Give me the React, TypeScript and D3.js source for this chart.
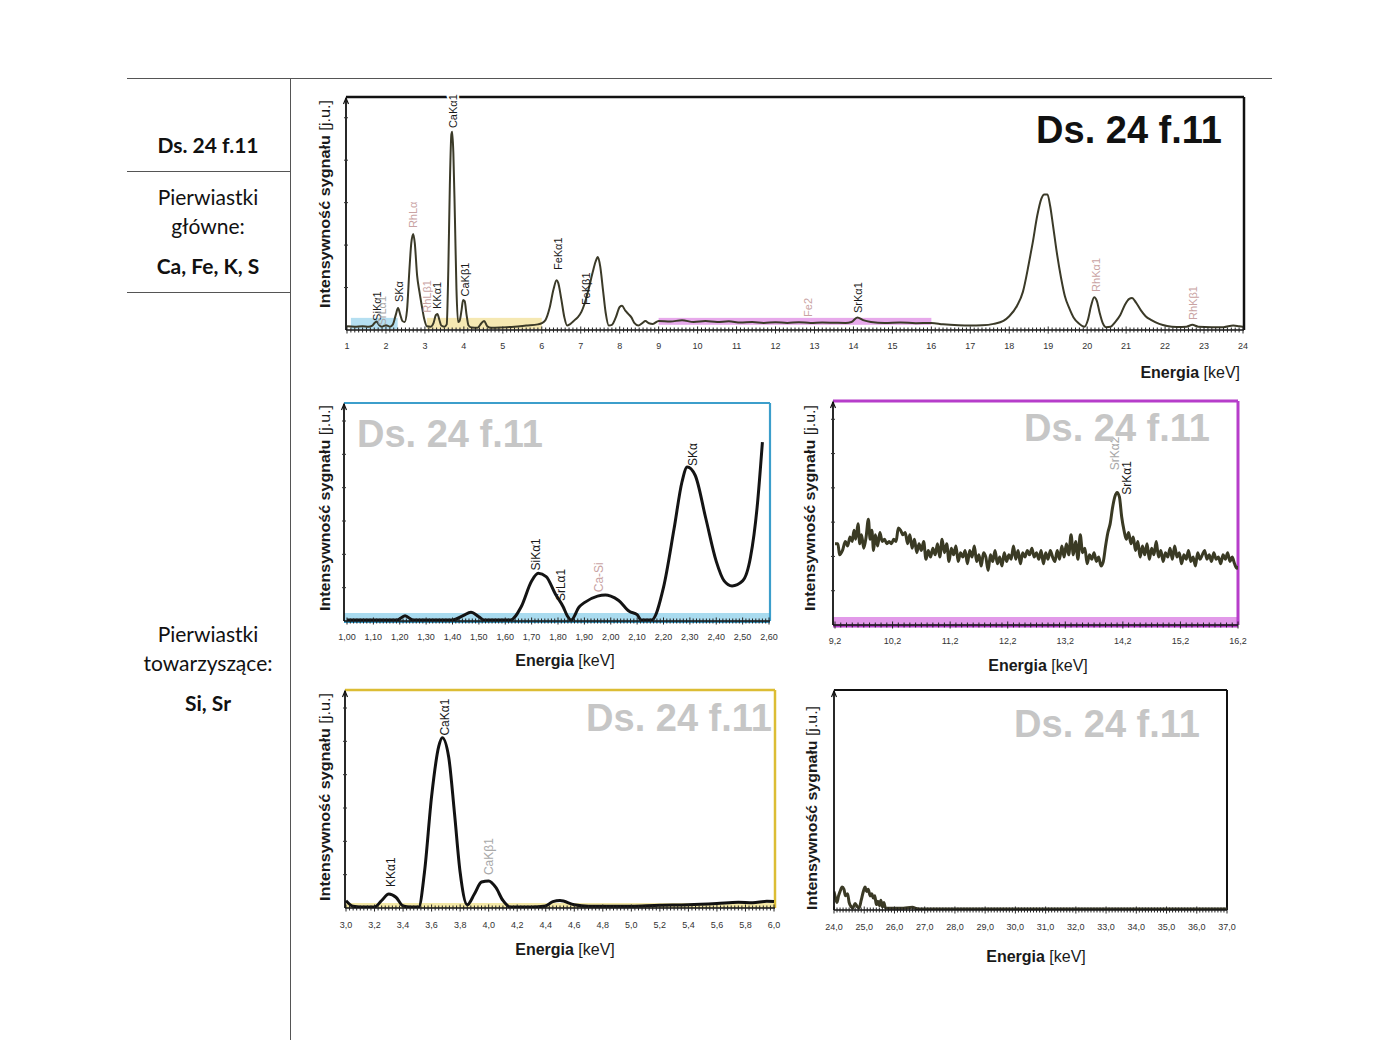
import React from "react";
import * as d3 from "d3";

// ---------- DATA ----------
const mainSpectrum: [number, number][] = [
  [1.0, 1.2], [1.2, 1.0], [1.4, 1.2], [1.55, 1.0], [1.65, 1.5], [1.72, 2.8], [1.76, 3.2], [1.82, 1.8], [1.9, 1.0], [2.0, 1.6],
  [2.1, 1.0], [2.18, 2.0], [2.25, 6.0], [2.31, 9.0], [2.37, 6.0], [2.42, 3.5], [2.48, 3.0], [2.54, 8], [2.6, 25], [2.65, 37],
  [2.7, 41], [2.74, 37], [2.8, 23], [2.86, 16], [2.92, 10], [2.98, 4.5], [3.05, 1.2], [3.15, 1.0], [3.22, 2.5], [3.28, 6],
  [3.32, 6.5], [3.37, 4], [3.42, 1.5], [3.5, 1.0], [3.56, 2], [3.6, 25], [3.64, 62], [3.68, 84], [3.7, 85], [3.73, 76],
  [3.77, 48], [3.81, 17], [3.85, 3], [3.89, 3.5], [3.94, 8], [3.98, 12.5], [4.02, 12], [4.07, 6], [4.12, 1.5], [4.2, 0.6],
  [4.35, 0.5], [4.45, 2.5], [4.52, 3.5], [4.6, 1.2], [4.7, 0.5], [5.0, 0.7], [5.3, 1.0], [5.6, 1.5], [5.9, 2.0], [6.0, 2.5],
  [6.1, 4], [6.2, 9], [6.3, 17], [6.38, 21], [6.42, 20], [6.5, 13], [6.58, 5], [6.65, 1.5], [6.72, 2], [6.82, 3.5],
  [6.92, 5], [7.02, 7.5], [7.1, 11], [7.2, 17], [7.3, 24], [7.38, 29], [7.44, 31], [7.5, 27], [7.57, 17], [7.64, 7],
  [7.72, 1.5], [7.8, 1.8], [7.9, 5], [8.0, 9.5], [8.06, 10], [8.14, 8], [8.22, 6.5], [8.3, 5], [8.38, 2.5], [8.48, 1.5],
  [8.58, 2.5], [8.66, 3.4], [8.75, 2.5], [8.85, 2.2], [9.0, 3.5], [9.3, 3.2], [9.6, 3.8], [9.9, 3.0], [10.2, 3.4], [10.5, 3.0],
  [10.8, 3.3], [11.1, 2.8], [11.4, 3.0], [11.7, 2.6], [12.0, 2.9], [12.3, 2.6], [12.6, 2.9], [12.9, 2.6], [13.2, 2.8], [13.5, 2.7],
  [13.8, 2.6], [13.95, 3.0], [14.1, 5.0], [14.25, 3.8], [14.45, 3.0], [14.8, 2.6], [15.2, 2.8], [15.6, 2.5], [16.0, 2.6], [16.3, 2.0],
  [16.7, 1.6], [17.0, 1.5], [17.3, 1.6], [17.6, 2.2], [17.85, 3.5], [18.0, 5.5], [18.2, 10], [18.35, 16], [18.5, 28], [18.6, 37],
  [18.72, 49], [18.82, 56], [18.9, 58], [18.98, 58], [19.05, 53], [19.12, 45], [19.22, 33], [19.33, 22], [19.43, 14], [19.54, 9],
  [19.65, 5], [19.78, 2.5], [19.93, 1.0], [20.02, 4], [20.1, 10], [20.18, 13.7], [20.25, 12], [20.32, 7], [20.4, 2.5], [20.48, 0.8],
  [20.6, 1.0], [20.72, 3], [20.85, 6], [20.97, 10.5], [21.08, 13], [21.15, 13.4], [21.25, 11.5], [21.38, 8], [21.5, 5.5], [21.65, 3.8],
  [21.85, 2.2], [22.05, 1.3], [22.3, 0.9], [22.55, 1.0], [22.7, 1.8], [22.85, 1.0], [23.2, 0.8], [23.5, 0.8], [23.75, 1.5], [23.9, 1.2],
  [24.0, 1.0],
];

const siSpectrum: [number, number][] = [
  [1.0, 0], [1.1, 0], [1.19, 0], [1.22, 2], [1.25, 0], [1.4, 0], [1.44, 2], [1.47, 3.6], [1.5, 1.5], [1.52, 0],
  [1.62, 0], [1.66, 6], [1.7, 18], [1.725, 21.5], [1.755, 20], [1.79, 12], [1.82, 6], [1.835, 2], [1.85, 0], [1.88, 6],
  [1.9, 8], [1.95, 11], [1.98, 11.5], [2.0, 11], [2.03, 9], [2.07, 4], [2.1, 2.5], [2.115, 0], [2.155, 0], [2.2, 15],
  [2.24, 42], [2.27, 63.6], [2.29, 70.5], [2.32, 66.7], [2.36, 47], [2.4, 27], [2.43, 18], [2.46, 15.7], [2.5, 18], [2.53, 29],
  [2.555, 52], [2.575, 82],
];

const srSpectrum: [number, number][] = [
  [9.2, 36], [9.25, 36], [9.28, 31], [9.33, 33], [9.38, 37], [9.42, 35], [9.46, 39], [9.5, 37], [9.53, 42], [9.56, 38],
  [9.6, 45], [9.63, 36], [9.66, 40], [9.7, 34], [9.74, 39], [9.78, 47], [9.81, 38], [9.84, 42], [9.87, 33], [9.9, 40],
  [9.94, 35], [9.98, 41], [10.02, 37], [10.06, 38], [10.1, 36], [10.14, 37], [10.18, 36], [10.22, 38], [10.26, 37], [10.3, 43],
  [10.34, 42], [10.38, 40], [10.42, 41], [10.46, 36], [10.5, 40], [10.54, 34], [10.58, 38], [10.62, 32], [10.66, 36], [10.7, 33],
  [10.74, 37], [10.78, 29], [10.82, 33], [10.86, 30], [10.9, 34], [10.94, 31], [10.98, 36], [11.02, 30], [11.06, 38], [11.1, 32],
  [11.14, 36], [11.18, 28], [11.22, 34], [11.26, 31], [11.3, 35], [11.34, 28], [11.38, 32], [11.42, 30], [11.46, 33], [11.5, 27],
  [11.54, 33], [11.58, 30], [11.62, 35], [11.66, 28], [11.7, 31], [11.74, 26], [11.78, 32], [11.82, 30], [11.86, 24], [11.9, 31],
  [11.94, 28], [11.98, 33], [12.02, 27], [12.06, 30], [12.1, 26], [12.14, 32], [12.18, 28], [12.22, 31], [12.26, 29], [12.3, 35],
  [12.34, 29], [12.38, 33], [12.42, 27], [12.46, 32], [12.5, 30], [12.54, 33], [12.58, 31], [12.62, 34], [12.66, 30], [12.7, 32],
  [12.74, 29], [12.78, 33], [12.82, 27], [12.86, 32], [12.9, 29], [12.94, 33], [12.98, 30], [13.02, 28], [13.06, 33], [13.1, 29],
  [13.14, 35], [13.18, 30], [13.22, 36], [13.26, 31], [13.3, 40], [13.34, 31], [13.38, 37], [13.42, 29], [13.46, 40], [13.5, 32],
  [13.54, 34], [13.58, 27], [13.62, 31], [13.66, 29], [13.7, 32], [13.74, 28], [13.78, 30], [13.82, 26], [13.86, 28], [13.9, 35],
  [13.94, 41], [13.98, 45], [14.02, 52], [14.06, 57], [14.1, 59], [14.14, 57], [14.18, 48], [14.22, 42], [14.26, 38], [14.3, 41],
  [14.34, 36], [14.38, 39], [14.42, 33], [14.46, 37], [14.5, 30], [14.54, 35], [14.58, 31], [14.62, 36], [14.66, 29], [14.7, 34],
  [14.74, 31], [14.78, 37], [14.82, 30], [14.86, 33], [14.9, 28], [14.94, 32], [14.98, 30], [15.02, 34], [15.06, 29], [15.1, 35],
  [15.14, 30], [15.18, 32], [15.22, 27], [15.26, 31], [15.3, 29], [15.34, 33], [15.38, 28], [15.42, 30], [15.46, 26], [15.5, 32],
  [15.54, 29], [15.58, 31], [15.62, 33], [15.66, 29], [15.7, 31], [15.74, 28], [15.78, 32], [15.82, 29], [15.86, 30], [15.9, 27],
  [15.94, 31], [15.98, 29], [16.02, 32], [16.06, 28], [16.1, 30], [16.14, 27], [16.18, 25], [16.2, 26],
];

const caSpectrum: [number, number][] = [
  [3.0, 2.9], [3.05, 0.3], [3.1, 0], [3.2, 0], [3.25, 3], [3.3, 6], [3.35, 4.5], [3.4, 0.5], [3.45, 0], [3.51, 0],
  [3.55, 16], [3.6, 51], [3.65, 74], [3.675, 78], [3.72, 69], [3.76, 43.5], [3.8, 16], [3.85, 1], [3.9, 6], [3.95, 11.5],
  [4.0, 12], [4.05, 9], [4.1, 3], [4.15, 0], [4.3, 0], [4.4, 0.5], [4.45, 2.5], [4.5, 3], [4.6, 1], [4.7, 0.3],
  [4.85, 0.3], [5.0, 0.4], [5.2, 0.8], [5.4, 1.0], [5.6, 1.6], [5.75, 2.2], [5.85, 2.0], [5.95, 2.6], [6.0, 2.5],
];

const highSpectrum: [number, number][] = [
  [24.0, 8], [24.05, 5], [24.1, 3], [24.15, 6], [24.2, 8], [24.27, 10], [24.33, 9], [24.38, 6], [24.45, 7], [24.5, 3],
  [24.57, 1], [24.62, 0.5], [24.7, 2.5], [24.77, 1], [24.83, 0.5], [24.9, 4], [24.97, 8], [25.03, 10], [25.08, 8], [25.13, 9],
  [25.2, 6], [25.25, 7], [25.3, 5], [25.35, 6], [25.4, 2], [25.45, 3.5], [25.5, 1.5], [25.55, 4], [25.6, 1], [25.65, 3],
  [25.7, 0.5], [25.8, 0.3], [26.0, 0.3], [26.3, 0.4], [26.6, 0.8], [26.7, 0.3], [26.8, 0], [37.0, 0],
];

type PeakLabel = { text: string; e: number; v: number; tone: "black" | "rh" | "gray" };

const mainLabels: PeakLabel[] = [
  { text: "SiKα1", e: 1.76, v: 3.5, tone: "black" },
  { text: "SrLα1", e: 1.9, v: 1.5, tone: "gray" },
  { text: "SKα", e: 2.33, v: 11.6, tone: "black" },
  { text: "RhLα", e: 2.7, v: 43.5, tone: "rh" },
  { text: "RhLβ1", e: 3.05, v: 7, tone: "rh" },
  { text: "KKα1", e: 3.32, v: 8.6, tone: "black" },
  { text: "CaKα1", e: 3.72, v: 86.6, tone: "black" },
  { text: "CaKβ1", e: 4.04, v: 14, tone: "black" },
  { text: "FeKα1", e: 6.42, v: 25.4, tone: "black" },
  { text: "FeKβ1", e: 7.13, v: 10.3, tone: "black" },
  { text: "Fe2", e: 12.83, v: 5.2, tone: "rh" },
  { text: "SrKα1", e: 14.12, v: 6.9, tone: "black" },
  { text: "RhKα1", e: 20.22, v: 16, tone: "rh" },
  { text: "RhKβ1", e: 22.72, v: 3.9, tone: "rh" },
];
const siLabels: PeakLabel[] = [
  { text: "SiKα1", e: 1.717, v: 22.8, tone: "black" },
  { text: "SrLα1", e: 1.81, v: 8.7, tone: "black" },
  { text: "Ca-Si", e: 1.955, v: 12.8, tone: "rh" },
  { text: "SKα", e: 2.31, v: 71, tone: "black" },
];
const srLabels: PeakLabel[] = [
  { text: "SrKα2", e: 14.06, v: 69, tone: "gray" },
  { text: "SrKα1", e: 14.27, v: 58, tone: "black" },
];
const caLabels: PeakLabel[] = [
  { text: "KKα1", e: 3.31, v: 9.2, tone: "black" },
  { text: "CaKα1", e: 3.69, v: 79, tone: "black" },
  { text: "CaKβ1", e: 4.0, v: 14.7, tone: "gray" },
];
const highLabels: PeakLabel[] = [];

const mainTicks = [1, 2, 3, 4, 5, 6, 7, 8, 9, 10, 11, 12, 13, 14, 15, 16, 17, 18, 19, 20, 21, 22, 23, 24];
const siTicks = [1.0, 1.1, 1.2, 1.3, 1.4, 1.5, 1.6, 1.7, 1.8, 1.9, 2.0, 2.1, 2.2, 2.3, 2.4, 2.5, 2.6];
const srTicks = [9.2, 10.2, 11.2, 12.2, 13.2, 14.2, 15.2, 16.2];
const caTicks = [3.0, 3.2, 3.4, 3.6, 3.8, 4.0, 4.2, 4.4, 4.6, 4.8, 5.0, 5.2, 5.4, 5.6, 5.8, 6.0];
const highTicks = [24, 25, 26, 27, 28, 29, 30, 31, 32, 33, 34, 35, 36, 37];

// highlighted energy windows
const mainBands = [
  { e0: 1.1, e1: 2.3, v0: 0, v1: 4.8, key: "blue" },
  { e0: 3.05, e1: 6.0, v0: 0, v1: 4.8, key: "yellow" },
  { e0: 9.0, e1: 16.0, v0: 1.8, v1: 4.8, key: "magenta" },
];

const sampleName = "Ds. 24 f.11";
const leftRows = {
  main: ["Pierwiastki", "główne:"],
  mainEl: "Ca, Fe, K, S",
  acc: ["Pierwiastki", "towarzyszące:"],
  accEl: "Si, Sr",
};

// ---------- STYLE ----------
const FONT = "'Liberation Sans', Arial, sans-serif";
const toneColor = { black: "#1a1a1a", rh: "#c9a3a3", gray: "#a8a8a8" } as const;
const bandColor: Record<string, string> = { blue: "#a8d9ee", yellow: "#f3e4a4", magenta: "#e39ae8" };

type PanelCfg = {
  id: string;
  data: [number, number][];
  domain: [number, number];
  xr: [number, number];
  frame: { l: number; t: number; r: number; b: number };
  ticks: number[];
  fmt: (v: number) => string;
  minorStep: number;
  majorStep: number;
  labels: PeakLabel[];
  labelSize: number;
  border: string;
  borderW: number;
  borderSides: string;
  lineColor: string;
  lineW: number;
  bands: { e0: number; e1: number; v0: number; v1: number; key: string }[];
  bottomBand?: { color: string; h: number };
  title: { x: number; y: number; anchor: "start" | "end"; color: string; size: number };
  yLabel: { x: number; cy: number; len: number };
  xLabel: { x: number; y: number; anchor: "middle" | "end" };
  tickY: number;
  yTickCount: number;
};

const comma = (d: string) => (v: number) => d3.format(d)(v).replace(".", ",");

function Panel({ c }: { c: PanelCfg }) {
  const { frame } = c;
  const x = d3.scaleLinear().domain(c.domain).range(c.xr);
  const y = d3.scaleLinear().domain([0, 100]).range([frame.b - 1, frame.t]);
  const line = d3
    .line<[number, number]>()
    .x((d) => x(d[0]))
    .y((d) => y(d[1]))
    .curve(d3.curveMonotoneX);
  const n = Math.round((c.domain[1] - c.domain[0]) / c.minorStep);
  const minor = d3.range(n + 1).map((i) => c.domain[0] + i * c.minorStep);
  const mEvery = Math.round(c.majorStep / c.minorStep);
  const yTicks = d3.range(1, c.yTickCount + 1).map((i) => frame.b - ((frame.b - frame.t - 8) * i) / (c.yTickCount + 0.3));
  const clipId = "clip-" + c.id;
  const sides = c.borderSides;
  return (
    <g>
      <defs>
        <clipPath id={clipId}>
          <rect x={frame.l} y={frame.t} width={frame.r - frame.l} height={frame.b - frame.t} />
        </clipPath>
      </defs>
      {c.bottomBand && (
        <rect x={frame.l} y={frame.b - c.bottomBand.h} width={frame.r - frame.l} height={c.bottomBand.h} fill={c.bottomBand.color} />
      )}
      {c.bands.map((b) => (
        <rect
          key={b.key}
          x={x(b.e0)}
          y={y(b.v1)}
          width={x(b.e1) - x(b.e0)}
          height={y(b.v0) - y(b.v1)}
          fill={bandColor[b.key]}
          opacity={0.85}
        />
      ))}
      {/* frame */}
      {sides.includes("t") && <line x1={frame.l} x2={frame.r} y1={frame.t} y2={frame.t} stroke={c.border} strokeWidth={c.borderW} />}
      {sides.includes("r") && <line x1={frame.r} x2={frame.r} y1={frame.t} y2={frame.b} stroke={c.border} strokeWidth={c.borderW} />}
      {sides.includes("b") && <line x1={frame.l} x2={frame.r} y1={frame.b + 1} y2={frame.b + 1} stroke={c.border} strokeWidth={c.borderW} />}
      {sides.includes("l") && <line x1={frame.l} x2={frame.l} y1={frame.t} y2={frame.b} stroke={c.border} strokeWidth={c.borderW} />}
      {/* spectrum */}
      <path d={line(c.data) || ""} fill="none" stroke={c.lineColor} strokeWidth={c.lineW} strokeLinejoin="round" clipPath={`url(#${clipId})`} />
      {/* x axis */}
      <line x1={frame.l} x2={frame.r} y1={frame.b} y2={frame.b} stroke="#111" strokeWidth={1.6} />
      {minor.map((v, i) => (
        <line key={i} x1={x(v)} x2={x(v)} y1={frame.b - (i % mEvery === 0 ? 3.5 : 2.5)} y2={frame.b + (i % mEvery === 0 ? 3.5 : 2.5)} stroke="#222" strokeWidth={1} />
      ))}
      {c.ticks.map((t) => (
        <text key={t} x={x(t)} y={c.tickY} fontSize={9} fill="#333" textAnchor="middle" fontFamily={FONT}>
          {c.fmt(t)}
        </text>
      ))}
      {/* y axis */}
      <line x1={frame.l} x2={frame.l} y1={frame.b} y2={frame.t + 1} stroke="#111" strokeWidth={1.8} />
      <path d={`M${frame.l - 2.5},${frame.t + 7} L${frame.l},${frame.t + 1} L${frame.l + 2.5},${frame.t + 7}`} fill="none" stroke="#111" strokeWidth={1.2} />
      {yTicks.map((ty, i) => (
        <line key={i} x1={frame.l - 2} x2={frame.l + 2} y1={ty} y2={ty} stroke="#333" strokeWidth={1} />
      ))}
      {/* peak labels */}
      {c.labels.map((l) => {
        const approxLen = l.text.length * c.labelSize * 0.6;
        const crossesTop = y(l.v) - approxLen < frame.t + 4;
        return (
          <text
            key={l.text + l.e}
            transform={`translate(${x(l.e)},${y(l.v)}) rotate(-90)`}
            dy="0.36em"
            fontSize={c.labelSize}
            fill={toneColor[l.tone]}
            fontFamily={FONT}
            stroke={crossesTop ? "#fff" : "none"}
            strokeWidth={crossesTop ? 4 : 0}
            paintOrder="stroke"
          >
            {l.text}
          </text>
        );
      })}
      {/* title */}
      <text x={c.title.x} y={c.title.y} textAnchor={c.title.anchor} fontSize={c.title.size} fontWeight={700} fill={c.title.color} fontFamily={FONT}>
        {sampleName}
      </text>
      {/* axis titles */}
      <text
        transform={`translate(${c.yLabel.x},${c.yLabel.cy}) rotate(-90)`}
        textAnchor="middle"
        fontSize={14.5}
        fill="#1a1a1a"
        fontFamily={FONT}
        textLength={c.yLabel.len}
        lengthAdjust="spacingAndGlyphs"
      >
        <tspan fontWeight={700}>Intensywność sygnału </tspan>
        <tspan>[j.u.]</tspan>
      </text>
      <text x={c.xLabel.x} y={c.xLabel.y} textAnchor={c.xLabel.anchor} fontSize={16} fill="#1a1a1a" fontFamily={FONT}>
        <tspan fontWeight={700}>Energia</tspan>
        <tspan> [keV]</tspan>
      </text>
    </g>
  );
}

const panels: PanelCfg[] = [
  {
    id: "main",
    data: mainSpectrum,
    domain: [1, 24],
    xr: [347, 1243],
    frame: { l: 346, t: 97, r: 1244, b: 330 },
    ticks: mainTicks,
    fmt: (v) => String(v),
    minorStep: 0.1,
    majorStep: 1,
    labels: mainLabels,
    labelSize: 11,
    border: "#111",
    borderW: 2.5,
    borderSides: "tr",
    lineColor: "#3b3a28",
    lineW: 2,
    bands: mainBands,
    title: { x: 1222, y: 143, anchor: "end", color: "#111", size: 38 },
    yLabel: { x: 330, cy: 204, len: 208 },
    xLabel: { x: 1240, y: 378, anchor: "end" },
    tickY: 349,
    yTickCount: 5,
  },
  {
    id: "si",
    data: siSpectrum,
    domain: [1.0, 2.6],
    xr: [347, 769],
    frame: { l: 344, t: 403, r: 770, b: 621 },
    ticks: siTicks,
    fmt: comma(".2f"),
    minorStep: 0.0125,
    majorStep: 0.1,
    labels: siLabels,
    labelSize: 12,
    border: "#3c9ecb",
    borderW: 2.2,
    borderSides: "trb",
    lineColor: "#141414",
    lineW: 3,
    bands: [],
    bottomBand: { color: "#a9dbef", h: 8 },
    title: { x: 357, y: 447, anchor: "start", color: "#c6c6c6", size: 38 },
    yLabel: { x: 330, cy: 508, len: 206 },
    xLabel: { x: 565, y: 666, anchor: "middle" },
    tickY: 640,
    yTickCount: 6,
  },
  {
    id: "sr",
    data: srSpectrum,
    domain: [9.2, 16.2],
    xr: [835, 1238],
    frame: { l: 833, t: 401, r: 1238, b: 625 },
    ticks: srTicks,
    fmt: comma(".1f"),
    minorStep: 0.1,
    majorStep: 1,
    labels: srLabels,
    labelSize: 12,
    border: "#b63dca",
    borderW: 3,
    borderSides: "trb",
    lineColor: "#3a3a24",
    lineW: 3,
    bands: [],
    bottomBand: { color: "#e29ae9", h: 8 },
    title: { x: 1210, y: 441, anchor: "end", color: "#c6c6c6", size: 38 },
    yLabel: { x: 815, cy: 508, len: 206 },
    xLabel: { x: 1038, y: 671, anchor: "middle" },
    tickY: 644,
    yTickCount: 6,
  },
  {
    id: "ca",
    data: caSpectrum,
    domain: [3.0, 6.0],
    xr: [346, 774],
    frame: { l: 345, t: 690, r: 775, b: 908 },
    ticks: caTicks,
    fmt: comma(".1f"),
    minorStep: 0.025,
    majorStep: 0.2,
    labels: caLabels,
    labelSize: 12,
    border: "#dcbd34",
    borderW: 2.5,
    borderSides: "tr",
    lineColor: "#121212",
    lineW: 3,
    bands: [],
    bottomBand: { color: "#f4e8a6", h: 5 },
    title: { x: 772, y: 731, anchor: "end", color: "#c6c6c6", size: 38 },
    yLabel: { x: 330, cy: 797, len: 208 },
    xLabel: { x: 565, y: 955, anchor: "middle" },
    tickY: 928,
    yTickCount: 6,
  },
  {
    id: "high",
    data: highSpectrum,
    domain: [24, 37],
    xr: [834, 1227],
    frame: { l: 834, t: 690, r: 1227, b: 910 },
    ticks: highTicks,
    fmt: comma(".1f"),
    minorStep: 0.1,
    majorStep: 1,
    labels: highLabels,
    labelSize: 12,
    border: "#111",
    borderW: 2,
    borderSides: "tr",
    lineColor: "#3b3a26",
    lineW: 3,
    bands: [],
    title: { x: 1200, y: 737, anchor: "end", color: "#c6c6c6", size: 38 },
    yLabel: { x: 817, cy: 808, len: 204 },
    xLabel: { x: 1036, y: 962, anchor: "middle" },
    tickY: 930,
    yTickCount: 0,
  },
];

const LFONT = "Lato, 'Open Sans', sans-serif";

export default function App() {
  return (
    <svg width={1400} height={1040} style={{ position: "absolute", left: 0, top: 0, background: "#fff" }}>
      <rect x={0} y={0} width={1400} height={1040} fill="#fff" />
      {/* table lines */}
      <line x1={127} x2={1272} y1={78.5} y2={78.5} stroke="#555" strokeWidth={1} />
      <line x1={290.5} x2={290.5} y1={78} y2={1040} stroke="#555" strokeWidth={1} />
      <line x1={127} x2={290} y1={171.5} y2={171.5} stroke="#555" strokeWidth={1} />
      <line x1={127} x2={290} y1={292.5} y2={292.5} stroke="#555" strokeWidth={1} />
      {/* left column */}
      <g fontFamily={LFONT} fontSize={21} fill="#111" textAnchor="middle">
        <text x={208} y={153} fontWeight={700}>{sampleName}</text>
        <text x={208} y={205}>{leftRows.main[0]}</text>
        <text x={208} y={234}>{leftRows.main[1]}</text>
        <text x={208} y={274} fontWeight={700}>{leftRows.mainEl}</text>
        <text x={208} y={642}>{leftRows.acc[0]}</text>
        <text x={208} y={671}>{leftRows.acc[1]}</text>
        <text x={208} y={711} fontWeight={700}>{leftRows.accEl}</text>
      </g>
      {panels.map((p) => (
        <Panel key={p.id} c={p} />
      ))}
    </svg>
  );
}
